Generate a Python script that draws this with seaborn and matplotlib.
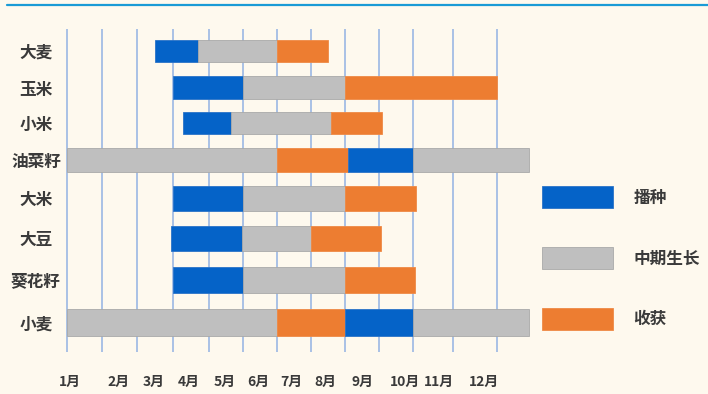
import numpy as np
import pandas as pd
import seaborn as sns
import matplotlib.pyplot as plt
from matplotlib.patches import Patch
from matplotlib.lines import Line2D

# crops top -> bottom, months on the x axis
crops = ['大麦', '玉米', '小米', '油菜籽', '大米', '大豆', '葵花籽', '小麦']
months = ['1月', '2月', '3月', '4月', '5月', '6月', '7月', '8月', '9月', '10月', '11月', '12月']
phases = ['播种', '中期生长', '收获']

# one entry per bar segment, x in grid units (0 = first grid line)
seg_crop = ['大麦', '大麦', '大麦',
            '玉米', '玉米', '玉米',
            '小米', '小米', '小米',
            '油菜籽', '油菜籽', '油菜籽', '油菜籽',
            '大米', '大米', '大米',
            '大豆', '大豆', '大豆',
            '葵花籽', '葵花籽', '葵花籽',
            '小麦', '小麦', '小麦', '小麦']
seg_phase = ['播种', '中期生长', '收获',
             '播种', '中期生长', '收获',
             '播种', '中期生长', '收获',
             '中期生长', '收获', '播种', '中期生长',
             '播种', '中期生长', '收获',
             '播种', '中期生长', '收获',
             '播种', '中期生长', '收获',
             '中期生长', '收获', '播种', '中期生长']
seg_start = [2.5, 3.7, 6.0,
             3.0, 5.0, 8.0,
             3.27, 4.64, 7.6,
             0.0, 6.0, 8.1, 10.0,
             3.0, 5.0, 8.0,
             2.95, 4.95, 7.0,
             3.0, 5.0, 8.0,
             0.0, 6.0, 8.0, 10.0]
seg_end = [3.7, 6.0, 7.5,
           5.0, 8.0, 12.0,
           4.64, 7.6, 9.1,
           6.0, 8.1, 10.0, 12.75,
           5.0, 8.0, 10.07,
           4.95, 7.0, 9.08,
           5.0, 8.0, 10.05,
           6.0, 8.0, 10.0, 12.75]

df = pd.DataFrame({'crop': seg_crop, 'phase': seg_phase, 'start': seg_start, 'end': seg_end})

colors = {'播种': '#0563c8', '中期生长': '#bfbfbf', '收获': '#ed7d31'}
edges = {'播种': '#2a73c8', '中期生长': '#a9a9a9', '收获': '#ef8a45'}
bg = '#fef9ee'

# the original grid is hand spaced: map grid index -> pixel position
grid_idx = np.arange(-1, 15)
grid_px = np.array([31.1, 66.7, 102.3, 136.7, 172.7, 209.3, 243.3, 277.3, 311.0,
                    345.0, 378.7, 412.7, 453.3, 496.7, 540.1, 583.5])
row_idx = np.arange(-1, 9)
row_px = np.array([14.2, 51.0, 87.8, 122.5, 160.0, 198.3, 238.3, 279.3, 322.7, 366.1])
month_pos = [0.1, 1.46, 2.47, 3.45, 4.46, 5.43, 6.41, 7.41, 8.52, 9.77, 10.64, 11.71]

fx = lambda v: np.interp(v, grid_idx, grid_px)
ix = lambda p: np.interp(p, grid_px, grid_idx)
fy = lambda v: np.interp(v, row_idx, row_px)
iy = lambda p: np.interp(p, row_px, row_idx)

sns.set_theme(style='white', rc={'figure.facecolor': bg, 'axes.facecolor': bg})
plt.rcParams['font.family'] = ['Noto Sans CJK SC', 'DejaVu Sans']

W, H = 708, 394
fig = plt.figure(figsize=(W / 100, H / 100), dpi=100)
L, R, T, B = 60, 535, 29.3, 351.7
ax = fig.add_axes([L / W, (H - B) / H, (R - L) / W, (B - T) / H])
ax.set_xscale('function', functions=(fx, ix))
ax.set_yscale('function', functions=(fy, iy))

for r in df.itertuples():
    ax.barh(crops.index(r.crop), r.end - r.start, left=r.start, height=0.62,
            color=colors[r.phase], edgecolor=edges[r.phase], linewidth=0.6, zorder=3)

ax.set_xlim(ix(L), ix(R))
ax.set_ylim(iy(B), iy(T))

ax.set_xticks(range(13))
ax.set_xticklabels([''] * 13)
ax.set_xticks(month_pos, minor=True)
ax.set_xticklabels(months, minor=True, fontsize=10, fontweight='bold', color='#3a3a3a')
ax.set_yticks(range(len(crops)))
ax.set_yticklabels(crops, fontsize=12, fontweight='bold', color='#3a3a3a')
for t in ax.get_yticklabels():
    t.set_ha('center')
ax.tick_params(axis='x', which='both', length=0, pad=17)
ax.tick_params(axis='y', which='both', length=0, pad=17.3)
ax.grid(axis='x', which='major', color='#a9c1e5', linewidth=1.4)
ax.grid(axis='y', visible=False)
ax.grid(axis='x', which='minor', visible=False)
ax.set_axisbelow(True)
for s in ax.spines.values():
    s.set_visible(False)

handles = [Patch(facecolor=colors[p], edgecolor=edges[p], linewidth=0.6, label=p) for p in phases]
fig.legend(handles=handles, loc='upper left', bbox_to_anchor=(542 / W, (H - 186) / H),
           frameon=False, borderpad=0, borderaxespad=0, handlelength=4.25, handleheight=1.66,
           labelspacing=2.33, handletextpad=1.25,
           prop={'family': ['Noto Sans CJK SC', 'DejaVu Sans'], 'size': 12, 'weight': 'bold'},
           labelcolor='#3a3a3a')

fig.add_artist(Line2D([7 / W, 1], [1 - 5 / H, 1 - 5 / H], color='#1a9bd6', lw=1.6,
                      transform=fig.transFigure))

fig.savefig('out.png', dpi=100, facecolor=bg)
